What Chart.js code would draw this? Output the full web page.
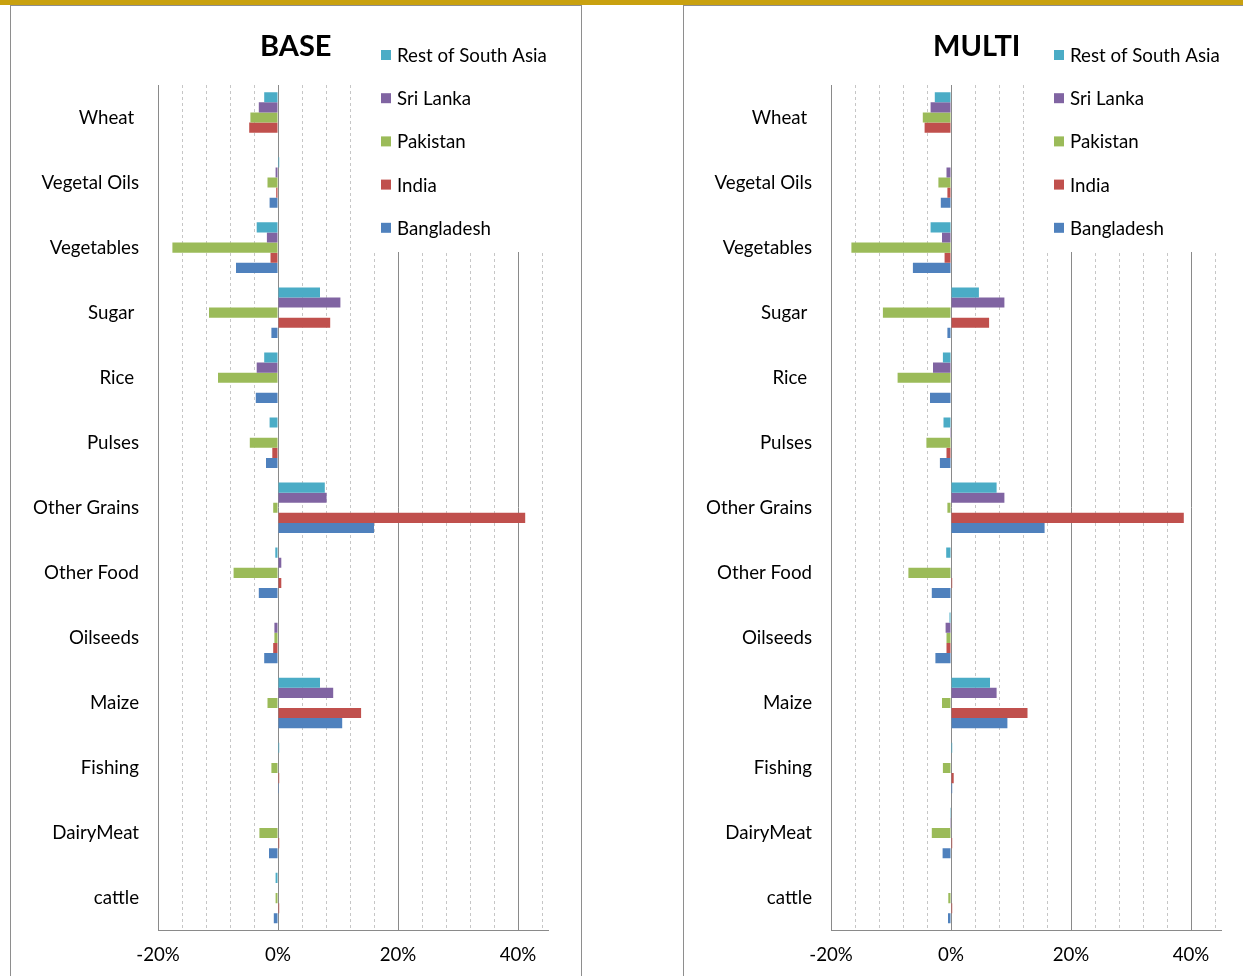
<!DOCTYPE html>
<html lang="en">

<head>
  <meta charset="utf-8" />
  <meta name="viewport" content="width=device-width, initial-scale=1.0">

  <title>BASE / MULTI</title>

  <script src="https://cdn.jsdelivr.net/npm/chart.js@4.4.0/dist/chart.umd.min.js"></script>

  <style>
    html, body { margin: 0; padding: 0; background: #fff; overflow: hidden; }
    body { width: 1243px; height: 976px; position: relative; }
    #topbar { position: absolute; left: 0; top: 0; width: 1243px; height: 5px; background: #c9a10f; }
    .panel { position: absolute; top: 5px; width: 570px; height: 980px; border: 1px solid #8e8e8e; background: #fff; }
    #panelBase { left: 10px; }
    #panelMulti { left: 683px; }
    canvas { display: block; }
  </style>
</head>

<body>
  <div id="topbar"></div>
  <div class="panel" id="panelBase"><canvas id="chartBase" width="570" height="970"></canvas></div>
  <div class="panel" id="panelMulti"><canvas id="chartMulti" width="570" height="970"></canvas></div>

  <script>
    // commodities, top to bottom (trailing spaces kept as in the sheet)
    const categories = ['Wheat ', 'Vegetal Oils', 'Vegetables', 'Sugar ', 'Rice ', 'Pulses',
      'Other Grains', 'Other Food', 'Oilseeds', 'Maize', 'Fishing', 'DairyMeat', 'cattle'];

    const regions = ['Rest of South Asia', 'Sri Lanka', 'Pakistan', 'India', 'Bangladesh'];

    // % change, BASE scenario
    const baseRestSA = [-2.3, 0.2, -3.55, 7.0, -2.3, -1.4, 7.8, -0.45, 0, 7.0, 0.2, 0, -0.4];
    const baseSriLanka = [-3.2, -0.4, -1.85, 10.4, -3.55, 0, 8.1, 0.55, -0.6, 9.2, 0, 0, 0];
    const basePakistan = [-4.6, -1.75, -17.6, -11.5, -10.0, -4.7, -0.8, -7.4, -0.6, -1.75, -1.1, -3.1, -0.4];
    const baseIndia = [-4.8, -0.3, -1.25, 8.7, 0, -0.95, 41.2, 0.55, -0.8, 13.85, 0.2, 0.2, 0.2];
    const baseBangladesh = [0, -1.4, -7.0, -1.1, -3.7, -2.0, 16.0, -3.2, -2.3, 10.7, 0.15, -1.5, -0.7];

    // % change, MULTI scenario
    const multiRestSA = [-2.7, 0, -3.4, 4.65, -1.35, -1.25, 7.6, -0.8, -0.25, 6.5, 0.2, -0.15, 0];
    const multiSriLanka = [-3.4, -0.75, -1.5, 8.9, -3.0, -0.15, 8.9, 0, -0.9, 7.6, 0, -0.15, 0];
    const multiPakistan = [-4.7, -2.1, -16.6, -11.35, -8.9, -4.1, -0.6, -7.1, -0.75, -1.5, -1.35, -3.2, -0.45];
    const multiIndia = [-4.4, -0.6, -1.07, 6.35, 0, -0.75, 38.8, 0.2, -0.75, 12.75, 0.45, 0.2, 0.2];
    const multiBangladesh = [0, -1.7, -6.35, -0.6, -3.5, -1.85, 15.6, -3.2, -2.6, 9.4, 0.2, -1.4, -0.5];

    // axis
    const tickValues = [-20, 0, 20, 40];
    const tickLabels = ['-20%', '0%', '20%', '40%'];

    const colors = ['#4bacc6', '#8064a2', '#9bbb59', '#c0504d', '#4f81bd'];
    const FONT = 'Lato';
    const FONT_SIZE = 18.7;

    // title + legend drawn on top of the plot (legend box sits over the gridlines)
    const panelDecor = {
      id: 'panelDecor',
      afterDraw(chart, args, opts) {
        const ctx = chart.ctx;
        ctx.save();
        ctx.fillStyle = '#fff';
        ctx.fillRect(351, 0, chart.width - 351, 246);

        ctx.fillStyle = '#000';
        ctx.font = 'bold 29px ' + FONT;
        ctx.textAlign = 'left';
        ctx.textBaseline = 'alphabetic';
        ctx.fillText(opts.text, 249, 50);

        ctx.font = FONT_SIZE + 'px ' + FONT;
        ctx.textBaseline = 'middle';
        chart.data.datasets.forEach((ds, i) => {
          const y = 49 + i * 43.2;
          ctx.fillStyle = ds.backgroundColor;
          ctx.fillRect(370, y - 5, 10, 10);
          ctx.fillStyle = '#000';
          ctx.fillText(ds.label, 386, y + 1);
        });
        ctx.restore();
      }
    };

    function makeChart(id, title, series) {
      const datasets = regions.map((name, i) => ({
        label: name,
        data: series[i],
        backgroundColor: colors[i],
        borderWidth: 0
      }));

      return new Chart(document.getElementById(id), {
        type: 'bar',
        data: { labels: categories, datasets: datasets },
        plugins: [panelDecor],
        options: {
          indexAxis: 'y',
          responsive: false,
          animation: false,
          layout: { padding: { top: 79, right: 33, bottom: 0, left: 0 } },
          datasets: { bar: { categoryPercentage: 0.777, barPercentage: 1 } },
          plugins: {
            legend: { display: false },
            tooltip: { enabled: false },
            panelDecor: { text: title }
          },
          scales: {
            x: {
              min: -20,
              max: 45,
              afterBuildTicks: (scale) => {
                const t = [];
                for (let v = -20; v <= 44; v += 4) t.push({ value: v });
                scale.ticks = t;
              },
              afterFit: (scale) => { scale.height = 45.4; },
              grid: {
                drawTicks: false,
                lineWidth: 1,
                color: (c) => (c.tick && c.tick.value % 20 === 0) ? '#8a8a8a' : '#c6c6c6'
              },
              border: {
                color: '#8a8a8a',
                dash: (c) => (c.tick && c.tick.value % 20 !== 0) ? [3, 3] : []
              },
              ticks: {
                autoSkip: false,
                maxRotation: 0,
                padding: 13,
                color: '#000',
                font: { family: FONT, size: FONT_SIZE },
                callback: (v) => {
                  const k = tickValues.indexOf(v);
                  return k >= 0 ? tickLabels[k] : '';
                }
              }
            },
            y: {
              afterFit: (scale) => { scale.width = 147; },
              grid: { display: false, drawTicks: false },
              border: { color: '#8a8a8a' },
              ticks: {
                padding: 19,
                color: '#000',
                font: { family: FONT, size: FONT_SIZE }
              }
            }
          }
        }
      });
    }

    makeChart('chartBase', 'BASE', [baseRestSA, baseSriLanka, basePakistan, baseIndia, baseBangladesh]);
    makeChart('chartMulti', 'MULTI', [multiRestSA, multiSriLanka, multiPakistan, multiIndia, multiBangladesh]);
  </script>
</body>

</html>
